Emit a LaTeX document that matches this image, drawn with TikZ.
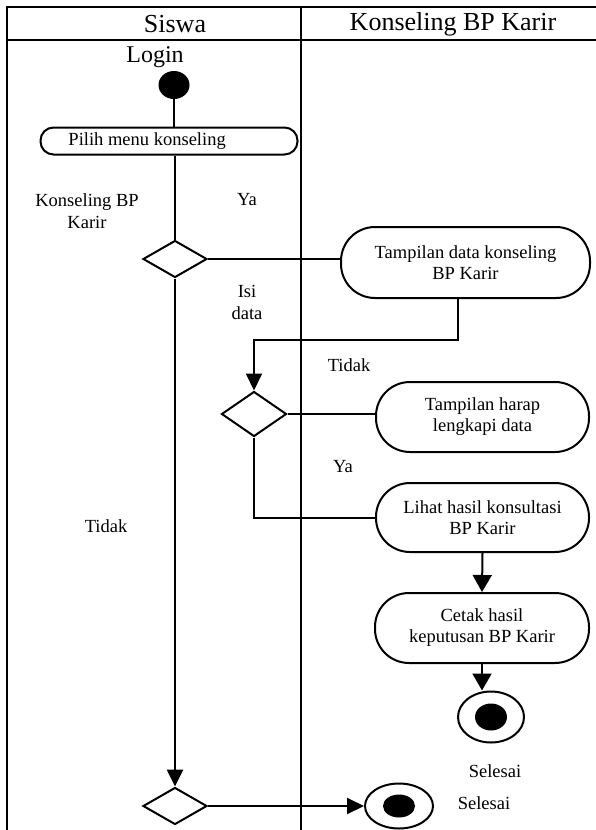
\documentclass[tikz,border=0pt]{standalone}
\usepackage{fontspec}
\setmainfont{Liberation Serif}
\usetikzlibrary{shapes.geometric,arrows.meta}
\begin{document}
\begin{tikzpicture}[x=1pt,y=-1pt,
  ln/.style={line width=2pt},
  frame/.style={line width=2.6pt},
  lbl/.style={font=\fontsize{18.5}{22}\selectfont, align=center, inner sep=0},
  act/.style={draw, line width=2pt, rounded corners=34pt, minimum height=70pt, align=center, font=\fontsize{18.5}{21}\selectfont, inner sep=0},
  dec/.style={draw, diamond, line width=2pt, inner sep=0, minimum width=64pt, minimum height=37pt},
  tip/.style={-{Triangle[length=17pt,width=16pt]}},
  bigtip/.style={-{Triangle[length=17pt,width=19pt]}},
  dot/.style={ellipse, fill=black, inner sep=0},
  ring/.style={ellipse, draw, line width=2pt, inner sep=0}
]
\useasboundingbox (0,0) rectangle (596,830);
% swimlane frame
\draw[frame] (7,830) -- (7,7) -- (596,7);
\draw[frame] (7,40) -- (596,40);
\draw[frame] (301,7) -- (301,830);
\node[font=\fontsize{26}{30}\selectfont, inner sep=0] (h1) at (175,24) {Siswa};
\node[font=\fontsize{26}{30}\selectfont, inner sep=0] (h2) at (453,24) {Konseling BP Karir};
\node[font=\fontsize{24}{28}\selectfont, inner sep=0] (login) at (155,57) {Login};
% nodes
\node[dot, minimum width=31pt, minimum height=28pt] (start) at (174,85) {};
\node[draw, line width=2pt, rounded corners=13pt, minimum width=257pt, minimum height=27pt, font=\fontsize{18.5}{22}\selectfont, inner sep=0] (pilih) at (169,141) {\makebox[257pt][l]{\hspace{28pt}Pilih menu konseling}};
\node[dec] (d1) at (175,259) {};
\node[act, minimum width=249pt, minimum height=71pt] (tdata) at (465.5,262.5) {Tampilan data konseling\\BP Karir};
\node[dec, minimum width=65pt, minimum height=45pt] (d2) at (254,414) {};
\node[act, minimum width=213pt] (tharap) at (482.5,417) {Tampilan harap\\lengkapi data};
\node[act, minimum width=213pt, minimum height=69pt] (lihat) at (482.5,517.5) {Lihat hasil konsultasi\\BP Karir};
\node[act, minimum width=214pt] (cetak) at (482,628) {Cetak hasil\\keputusan BP Karir};
\node[ring, minimum width=66pt, minimum height=51pt] (end1) at (491,717) {};
\node[dot, minimum width=32pt, minimum height=27pt] (end1in) at (491,717) {};
\node[dec] (d3) at (175,806) {};
\node[ring, minimum width=68pt, minimum height=45pt] (end2) at (399,806) {};
\node[dot, minimum width=32pt, minimum height=23pt] (end2in) at (399,806) {};
% labels
\node[lbl] (l1) at (87,211) {Konseling BP\\Karir};
\node[lbl] (l2) at (247,200) {Ya};
\node[lbl] (l3) at (247,302) {Isi\\data};
\node[lbl] (l4) at (349,365) {Tidak};
\node[lbl] (l5) at (343,467) {Ya};
\node[lbl] (l6) at (106,526) {Tidak};
\node[lbl] (l7) at (495,771) {Selesai};
\node[lbl] (l8) at (484,803) {Selesai};
% connectors
\draw[ln] (start.south) -- (start.south |- pilih.north);
\draw[ln] (pilih.south -| d1) -- (d1.north);
\draw[ln] (d1.east) -- (d1.east -| tdata.west);
\draw[ln, tip] ([xshift=-7.5pt]tdata.south) -- ++(0,41) -| (d2.north);
\draw[ln] (d2.east) -- (d2.east -| tharap.west);
\draw[ln] (d2.south) |- (lihat.west);
\draw[ln, bigtip] (lihat.south) -- (cetak.north);
\draw[ln, bigtip] (cetak.south) -- (cetak.south |- end1.north);
\draw[line width=2.6pt, tip] (d1.south) -- (d3.north);
\draw[ln, tip] (d3.east) -- (end2.west);
\end{tikzpicture}
\end{document}
